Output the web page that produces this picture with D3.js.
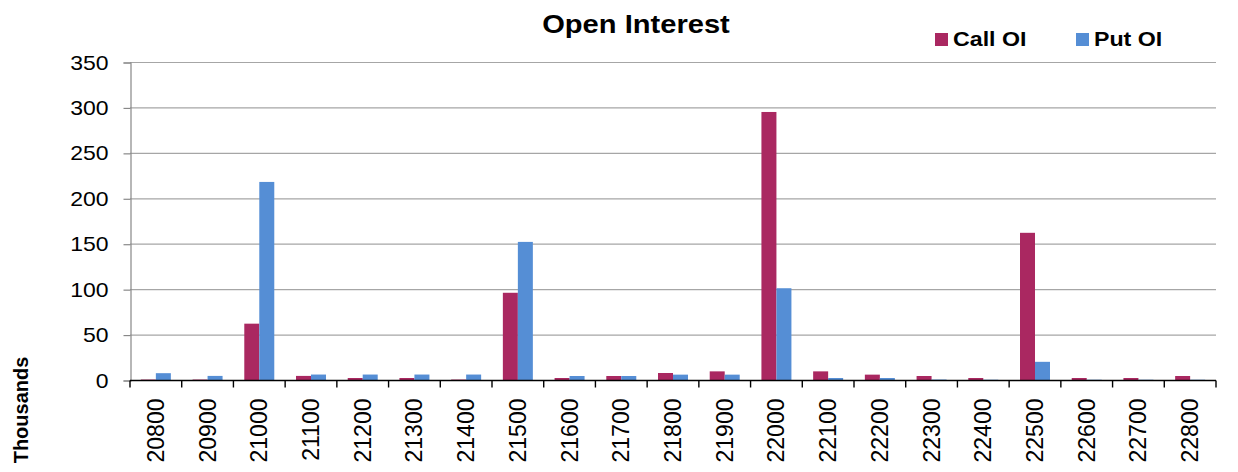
<!DOCTYPE html>
<html>
<head>
<meta charset="utf-8">
<script src="https://cdn.jsdelivr.net/npm/d3@7"></script>
<style>
  body { margin: 0; background: #fff; }
  text { font-family: "Liberation Sans", Arial, sans-serif; fill: #000; }
</style>
</head>
<body>
<div id="chart"></div>
<script>
// Width and height
var w = 1238, h = 472;

// Strike prices (categories)
var strikes = ["20800", "20900", "21000", "21100", "21200", "21300", "21400", "21500", "21600", "21700", "21800",
               "21900", "22000", "22100", "22200", "22300", "22400", "22500", "22600", "22700", "22800"];

// Open interest in thousands
var callOI = [0.5, 0.5, 62, 4.5, 2.2, 2.2, 0.5, 96, 2.2, 4.4, 7.7, 9.5, 295, 9.5, 5.9, 4.4, 2.2, 162, 2.2, 2.2, 4.4];
var putOI  = [7.5, 4.5, 218, 6, 6, 6, 6, 152, 4.4, 4.4, 5.9, 5.9, 101, 2.2, 2.2, 0.5, 0.3, 20, 0.3, 0.3, 0.3];

var seriesNames = ["Call OI", "Put OI"];
var seriesColors = ["#AA2861", "#558ED5"];
var yTicks = [0, 50, 100, 150, 200, 250, 300, 350];

var margin = {left: 130, right: 22, top: 62, bottom: 92};
var stretch = 1.15; // text in the picture is a bit wide

var svg = d3.select("#chart")
            .append("svg")
            .attr("width", w)
            .attr("height", h);

var rows = strikes.map(function(s, i) {
  return {strike: s, values: [callOI[i], putOI[i]]};
});

// Scales
var x0 = d3.scaleBand()
           .domain(strikes)
           .range([margin.left, w - margin.right])
           .paddingInner(0.42)
           .paddingOuter(0.21);

var x1 = d3.scaleBand()
           .domain([0, 1])
           .range([0, x0.bandwidth()]);

var y = d3.scaleLinear()
          .domain([0, 350])
          .range([h - margin.bottom, margin.top]);

// Gridlines
svg.append("g")
   .selectAll("line")
   .data(yTicks.filter(function(d) { return d > 0; }))
   .enter().append("line")
   .attr("x1", margin.left).attr("x2", w - margin.right)
   .attr("y1", function(d) { return y(d) + 0.5; })
   .attr("y2", function(d) { return y(d) + 0.5; })
   .attr("stroke", "#a6a6a6").attr("stroke-width", 1.2);

// Y axis
var yAxis = svg.append("g")
               .attr("transform", "translate(" + (margin.left + 0.5) + ",0.5)")
               .call(d3.axisLeft(y).tickValues(yTicks).tickSize(7).tickPadding(15));
yAxis.select(".domain").attr("stroke", "#888").attr("stroke-width", 1.2);
yAxis.selectAll(".tick line").attr("stroke", "#888").attr("stroke-width", 1.2);
yAxis.selectAll(".tick text")
     .attr("x", -22 / stretch)
     .attr("dy", "0.33em")
     .attr("transform", "scale(" + stretch + ",1)")
     .style("font-size", "20px")
     .style("font-family", "Liberation Sans, Arial, sans-serif")
     .attr("fill", "#000");

// Bars
var groups = svg.append("g")
                .selectAll("g")
                .data(rows)
                .enter().append("g")
                .attr("transform", function(d) { return "translate(" + x0(d.strike) + ",0)"; });

groups.selectAll("rect")
      .data(function(d) { return d.values.map(function(v, i) { return {i: i, v: v}; }); })
      .enter().append("rect")
      .attr("x", function(d) { return x1(d.i); })
      .attr("width", x1.bandwidth())
      .attr("y", function(d) { return y(d.v); })
      .attr("height", function(d) { return y(0) - y(d.v); })
      .attr("fill", function(d) { return seriesColors[d.i]; });

// X axis (category boundaries as ticks)
var xAxis = svg.append("g").attr("transform", "translate(0," + (y(0) + 0.5) + ")");
xAxis.append("line")
     .attr("x1", margin.left).attr("x2", w - margin.right)
     .attr("stroke", "#000").attr("stroke-width", 1.4);
var bounds = strikes.map(function(s) { return x0(s) - x0.step() * x0.paddingInner() / 2; });
bounds.push(w - margin.right);
xAxis.selectAll(".xtick")
     .data(bounds)
     .enter().append("line")
     .attr("class", "xtick")
     .attr("x1", function(d) { return d; }).attr("x2", function(d) { return d; })
     .attr("y1", 0).attr("y2", 7)
     .attr("stroke", "#000").attr("stroke-width", 1.4);

xAxis.selectAll("text")
     .data(strikes)
     .enter().append("text")
     .text(function(d) { return d; })
     .attr("text-anchor", "end")
     .attr("transform", function(d) {
       return "translate(" + (x0(d) + x0.bandwidth() / 2 + 8) + ",18) rotate(-90)";
     })
     .style("font-size", "23px");

// Y axis title
svg.append("text")
   .text("Thousands")
   .attr("text-anchor", "middle")
   .attr("transform", "translate(28,410) rotate(-90)")
   .style("font-size", "20px")
   .style("font-weight", "bold");

// Title
svg.append("text")
   .text("Open Interest")
   .attr("text-anchor", "middle")
   .attr("transform", "translate(636,33) scale(1.12,1)")
   .style("font-size", "26px")
   .style("font-weight", "bold");

// Legend
var legendX = [935, 1076];
var legend = svg.append("g")
                .selectAll("g")
                .data(seriesNames)
                .enter().append("g")
                .attr("transform", function(d, i) { return "translate(" + legendX[i] + ",33)"; });
legend.append("rect")
      .attr("width", 13).attr("height", 13)
      .attr("fill", function(d, i) { return seriesColors[i]; });
legend.append("text")
      .text(function(d) { return d; })
      .attr("transform", "translate(18,13) scale(1.16,1)")
      .style("font-size", "20px")
      .style("font-weight", "bold");
</script>
</body>
</html>
